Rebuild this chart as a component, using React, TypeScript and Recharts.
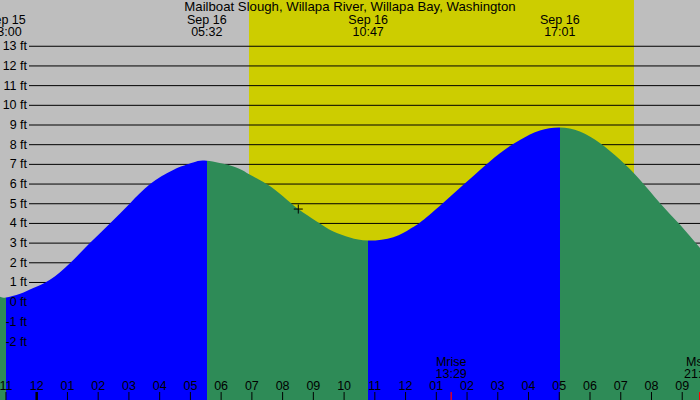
import React from 'react';
import {
  ComposedChart,
  Area,
  XAxis,
  YAxis,
  CartesianGrid,
  ReferenceArea,
  ReferenceDot,
} from 'recharts';

const stationName = 'Mailboat Slough, Willapa River, Willapa Bay, Washington';

// hours from Sep 16 00:00, water level in feet
const tideHours = [
  -1.194, -1.0, -0.54, -0.11, 0.43, 1.08, 1.73, 2.39, 3.04, 3.69, 4.44, 5.09, 5.533,
  6.4, 6.94, 7.48, 8.02, 8.51, 9.11, 9.65, 10.19, 10.783, 11.6, 12.14, 12.47, 13.12,
  13.88, 14.42, 15.07, 15.72, 16.37, 17.017, 17.67, 18.32, 18.98, 19.63, 20.28, 20.93,
  21.578,
];
const tideFeet = [
  0.27, 0.24, 0.43, 0.72, 1.14, 1.98, 3.0, 4.01, 5.03, 6.0, 6.72, 7.09, 7.18,
  6.89, 6.47, 6.0, 5.37, 4.73, 4.1, 3.59, 3.29, 3.13, 3.3, 3.72, 4.05, 4.9,
  5.96, 6.72, 7.57, 8.24, 8.72, 8.87, 8.67, 8.08, 7.23, 6.21, 5.03, 3.93,
  2.75,
];

// high / low tides
const extremeHours = [-1.0, 5.533, 10.783, 17.017];
const extremeKinds = ['low', 'high', 'low', 'high'];
const extremeDates = ['Sep 15', 'Sep 16', 'Sep 16', 'Sep 16'];
const extremeClocks = ['23:00', '05:32', '10:47', '17:01'];

const hourTicks = [-1, 0, 1, 2, 3, 4, 5, 6, 7, 8, 9, 10, 11, 12, 13, 14, 15, 16, 17, 18, 19, 20, 21];
const feetTicks = [-2, -1, 0, 1, 2, 3, 4, 5, 6, 7, 8, 9, 10, 11, 12, 13];

const moonHours = [13.483, 21.567];
const moonNames = ['Mrise', 'Mset'];
const moonClocks = ['13:29', '21:34'];

const sunriseHour = 6.906;
const sunsetHour = 19.43;

const nowHour = 8.51;
const nowFeet = 4.73;

const xDomain = [-1.194, 21.578];
const yDomain = [-4.97, 15.35];

const W = 700;
const H = 400;
const FONT = '"Liberation Sans", Arial, sans-serif';
const FS = 12.5;
const GRAY = '#BEBEBE';
const DAY = '#CDCD00';
const RISING = '#0000FF';
const FALLING = '#2E8B57';

const data = tideHours.map((h, i) => ({ hour: h, ft: tideFeet[i] }));

// hard colour stops: blue while the tide rises, green while it falls
const offsetOf = (h: number) => (h - xDomain[0]) / (xDomain[1] - xDomain[0]);
const stops: { offset: number; color: string }[] = [];
let prevOffset = 0;
extremeHours.forEach((h, i) => {
  const color = extremeKinds[i] === 'high' ? RISING : FALLING;
  stops.push({ offset: prevOffset, color }, { offset: offsetOf(h), color });
  prevOffset = offsetOf(h);
});
const lastColor = extremeKinds[extremeKinds.length - 1] === 'high' ? FALLING : RISING;
stops.push({ offset: prevOffset, color: lastColor }, { offset: 1, color: lastColor });

const clockLabel = (h: number) => {
  const hr = (((Math.round(h) % 12) + 12) % 12) || 12;
  return String(hr).padStart(2, '0');
};

const HourTick = (props: any) => {
  const { x, payload } = props;
  const v = payload.value;
  const m = moonHours.indexOf(v);
  if (m >= 0) {
    return (
      <g>
        <line x1={x} x2={x} y1={H - 8} y2={H} stroke="#FF0000" strokeWidth={1.3} />
        <text x={x} y={H - 34} textAnchor="middle" fontFamily={FONT} fontSize={FS} fill="#000">
          {moonNames[m]}
        </text>
        <text x={x} y={H - 22} textAnchor="middle" fontFamily={FONT} fontSize={FS} fill="#000">
          {moonClocks[m]}
        </text>
      </g>
    );
  }
  return (
    <g>
      <line x1={x} x2={x} y1={H - 8} y2={H} stroke="#000" strokeWidth={v === 0 ? 2.5 : 1} />
      <text x={x} y={H - 10} textAnchor="middle" fontFamily={FONT} fontSize={FS} fill="#000">
        {clockLabel(v)}
      </text>
    </g>
  );
};

const ExtremeTick = (props: any) => {
  const { x, payload } = props;
  const i = extremeHours.indexOf(payload.value);
  return (
    <g>
      <text x={x} y={24} textAnchor="middle" fontFamily={FONT} fontSize={FS} fill="#000">
        {extremeDates[i]}
      </text>
      <text x={x} y={36} textAnchor="middle" fontFamily={FONT} fontSize={FS} fill="#000">
        {extremeClocks[i]}
      </text>
    </g>
  );
};

const FeetTick = (props: any) => {
  const { y, payload } = props;
  return (
    <text x={27} y={y + 4} textAnchor="end" fontFamily={FONT} fontSize={FS} fill="#000">
      {`${payload.value} ft`}
    </text>
  );
};

const GridLine = (props: any) => (
  <line key={props.key} x1={29} x2={props.x2} y1={props.y1} y2={props.y2} stroke="#000" strokeWidth={1} />
);

const NowMark = (props: any) => {
  const { cx, cy } = props;
  return (
    <g stroke="#000" strokeWidth={1}>
      <line x1={cx - 4.5} x2={cx + 4.5} y1={cy} y2={cy} />
      <line x1={cx} x2={cx} y1={cy - 4.5} y2={cy + 4.5} />
    </g>
  );
};

export default function App() {
  return (
    <div style={{ position: 'absolute', left: 0, top: 0, width: W, height: H, background: GRAY, fontFamily: FONT }}>
      <ComposedChart width={W} height={H} data={data} margin={{ top: 0, right: 0, bottom: 0, left: 0 }}>
        <defs>
          <linearGradient id="tideFill" x1="0" y1="0" x2="1" y2="0">
            {stops.map((s, i) => (
              <stop key={i} offset={s.offset} stopColor={s.color} />
            ))}
          </linearGradient>
        </defs>
        <ReferenceArea
          x1={sunriseHour}
          x2={sunsetHour}
          fill={DAY}
          fillOpacity={1}
          stroke="none"
          ifOverflow="hidden"
          zIndex={-200}
        />
        <CartesianGrid horizontal={GridLine} horizontalValues={feetTicks} vertical={false} />
        <XAxis
          dataKey="hour"
          type="number"
          domain={xDomain}
          allowDataOverflow
          ticks={[...hourTicks, ...moonHours]}
          interval={0}
          mirror
          height={40}
          axisLine={false}
          tickLine={false}
          tick={HourTick}
        />
        <XAxis
          xAxisId="top"
          orientation="top"
          dataKey="hour"
          type="number"
          domain={xDomain}
          allowDataOverflow
          ticks={extremeHours}
          interval={0}
          mirror
          height={40}
          axisLine={false}
          tickLine={false}
          tick={ExtremeTick}
        />
        <YAxis
          type="number"
          domain={yDomain}
          allowDataOverflow
          ticks={feetTicks}
          interval={0}
          mirror
          width={30}
          axisLine={false}
          tickLine={false}
          tick={FeetTick}
        />
        <Area
          dataKey="ft"
          type="natural"
          stroke="none"
          fill="url(#tideFill)"
          fillOpacity={1}
          baseValue="dataMin"
          dot={false}
          activeDot={false}
          isAnimationActive={false}
        />
        <ReferenceDot x={nowHour} y={nowFeet} shape={NowMark} ifOverflow="visible" zIndex={1500} />
      </ComposedChart>
      <div
        style={{
          position: 'absolute',
          left: 0,
          top: 0,
          width: W,
          textAlign: 'center',
          fontSize: 13.2,
          lineHeight: '14px',
          color: '#000',
        }}
      >
        {stationName}
      </div>
    </div>
  );
}
